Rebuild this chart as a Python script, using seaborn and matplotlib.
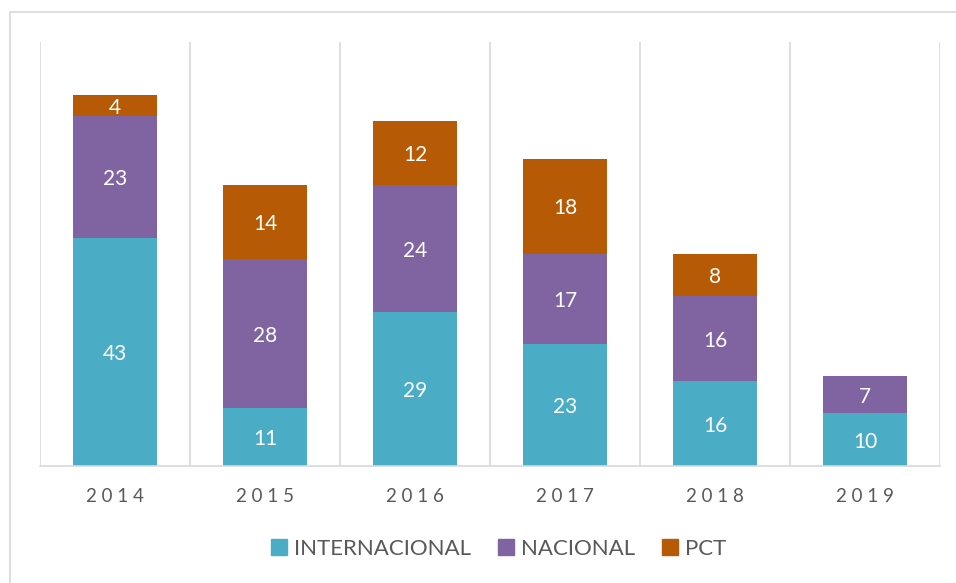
import numpy as np
import matplotlib
matplotlib.use("Agg")
import matplotlib.pyplot as plt
import seaborn as sns
from matplotlib.lines import Line2D

years = ["2014", "2015", "2016", "2017", "2018", "2019"]
internacional = [43, 11, 29, 23, 16, 10]
nacional = [23, 28, 24, 17, 16, 7]
pct = [4, 14, 12, 18, 8, 0]

colors = {"INTERNACIONAL": "#4BACC6", "NACIONAL": "#8064A2", "PCT": "#B65A06"}

sns.set_theme(style="white")
plt.rcParams["font.family"] = ["Lato", "DejaVu Sans"]

fig = plt.figure(figsize=(9.56, 5.83), dpi=100)
ax = fig.add_axes([40 / 956, 117 / 583, 900 / 956, 424 / 583])

intl = np.array(internacional)
nac_top = intl + np.array(nacional)
pct_top = nac_top + np.array(pct)

# stacked bars drawn as cumulative layers, largest first
for vals, c in [(pct_top, colors["PCT"]), (nac_top, colors["NACIONAL"]),
                (intl, colors["INTERNACIONAL"])]:
    sns.barplot(x=years, y=vals, color=c, width=0.56, saturation=1,
                linewidth=0, edgecolor="none", ax=ax)

# value labels
for i in range(len(years)):
    for lo, val in [(0, internacional[i]), (intl[i], nacional[i]), (nac_top[i], pct[i])]:
        if val > 0:
            ax.text(i, lo + val / 2 - 0.4, str(val), ha="center", va="center",
                    color="white", fontsize=15)

ax.set_xlim(-0.5, 5.5)
ax.set_ylim(0, 80)
ax.set_yticks([])
for x in np.arange(-0.5, 6, 1):
    ax.axvline(x, color="#D9D9D9", lw=1.2, zorder=0)
for s in ["top", "right", "left"]:
    ax.spines[s].set_visible(False)
ax.spines["bottom"].set_color("#D9D9D9")
ax.spines["bottom"].set_linewidth(1.2)
ax.set_xticks(range(len(years)))
ax.set_xticklabels([" ".join(y) for y in years], color="#595959", fontsize=13.5)
ax.tick_params(axis="x", length=0, pad=16)
ax.set_xlabel("")
ax.set_ylabel("")

handles = [Line2D([], [], marker="s", linestyle="", markersize=11.5,
                  markerfacecolor=c, markeredgecolor=c) for c in colors.values()]
fig.legend(handles, list(colors.keys()), loc="center", bbox_to_anchor=(496 / 956, 34 / 583),
           ncol=3, frameon=False, fontsize=16, handletextpad=0.05, handlelength=1.2,
           columnspacing=1.0, labelcolor="#595959")

# outer border (left and top only visible)
fig.add_artist(Line2D([10 / 956, 10 / 956], [0, 1 - 12 / 583], color="#D9D9D9", lw=1.2))
fig.add_artist(Line2D([10 / 956, 1], [1 - 12 / 583, 1 - 12 / 583], color="#D9D9D9", lw=1.2))

fig.savefig("out.png", dpi=100, facecolor="white")
